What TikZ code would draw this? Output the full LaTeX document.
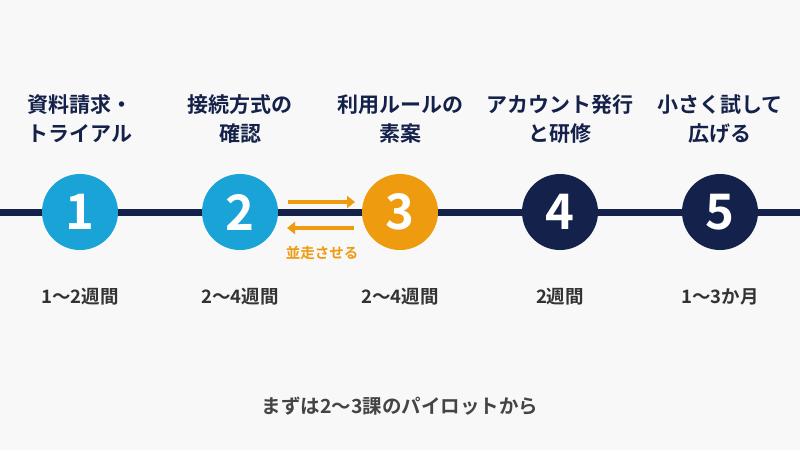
\documentclass[tikz,border=0pt]{standalone}
\usepackage{fontspec}
\setmainfont{Noto Sans CJK JP}[BoldFont={* Bold}]
\usetikzlibrary{arrows.meta}
\definecolor{navy}{HTML}{14214A}
\definecolor{lblue}{HTML}{1AA3D6}
\definecolor{orng}{HTML}{EE9B0F}
\definecolor{bg}{HTML}{F8F8F8}
\definecolor{dgrey}{HTML}{333333}
\definecolor{mgrey}{HTML}{444444}
\tikzset{
  stepcirc/.style={circle,minimum size=76pt,inner sep=0pt,text=white,font=\fontsize{49}{49}\selectfont\bfseries},
  titletxt/.style={align=center,text=navy,font=\fontsize{21}{29}\selectfont\bfseries},
  durtxt/.style={text=dgrey,font=\fontsize{18.5}{20}\selectfont\bfseries},
  arr/.style={orng,line width=3.6pt,-{Triangle[length=8pt,width=12pt]}}
}
\begin{document}
\begin{tikzpicture}[x=1pt,y=-1pt]
\fill[bg] (0,0) rectangle (800,450);
\useasboundingbox (0,0) rectangle (800,450);
\coordinate (L) at (0,212);
\coordinate (R) at (800,212);
\draw[navy,line width=7pt] (L) -- (R);
\node[stepcirc,fill=lblue] (c1) at (80,212) {1};
\node[stepcirc,fill=lblue] (c2) at (240,212) {2};
\node[stepcirc,fill=orng] (c3) at (400,212) {3};
\node[stepcirc,fill=navy] (c4) at (560,212) {4};
\node[stepcirc,fill=navy] (c5) at (720,212) {5};
\node[titletxt] (t1) at (80,119) {資料請求・\\トライアル};
\node[titletxt] (t2) at (240,119) {接続方式の\\確認};
\node[titletxt] (t3) at (400,119) {利用ルールの\\素案};
\node[titletxt] (t4) at (560,119) {アカウント発行\\と研修};
\node[titletxt] (t5) at (720,119) {小さく試して\\広げる};
\node[durtxt] (d1) at (80,297) {1〜2週間};
\node[durtxt] (d2) at (240,297) {2〜4週間};
\node[durtxt] (d3) at (400,297) {2〜4週間};
\node[durtxt] (d4) at (560,297) {2週間};
\node[durtxt] (d5) at (720,297) {1〜3か月};
\coordinate (a1s) at (288,202);
\coordinate (a1e) at (355,202);
\coordinate (a2s) at (354,228);
\coordinate (a2e) at (287,228);
\draw[arr] (a1s) -- (a1e);
\draw[arr] (a2s) -- (a2e);
\node[text=orng,font=\fontsize{14.5}{16}\selectfont\bfseries] (par) at (322,253) {並走させる};
\node[text=mgrey,font=\fontsize{19.5}{22}\selectfont\bfseries] (foot) at (400,406) {まずは2〜3課のパイロットから};
\end{tikzpicture}
\end{document}
